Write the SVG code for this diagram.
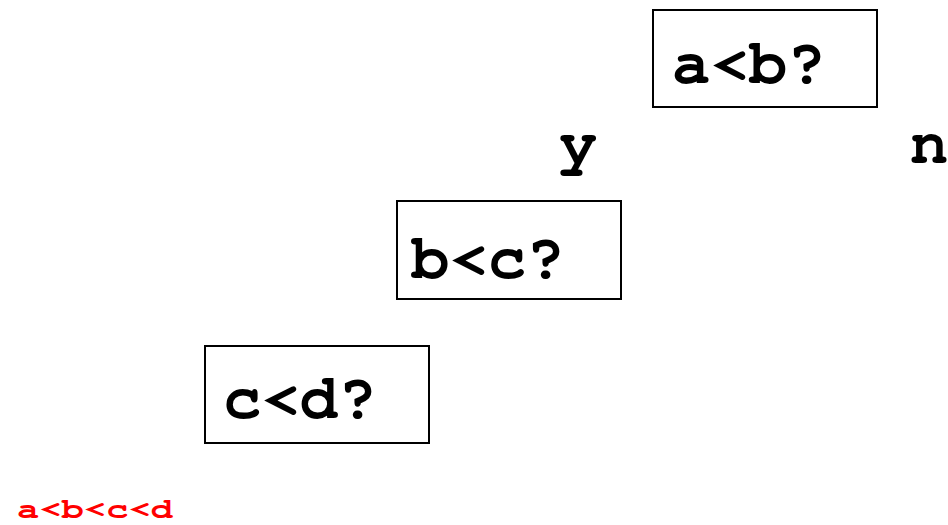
<svg xmlns="http://www.w3.org/2000/svg" width="948" height="525" viewBox="0 0 948 525">
  <style>
    .box { fill: #ffffff; stroke: #000000; stroke-width: 2; }
    .lbl { font-family: FreeMono, 'Liberation Mono', monospace; font-weight: bold; font-size: 64px; fill: #000000; }
    .res { font-family: FreeMono, 'Liberation Mono', monospace; font-weight: bold; font-size: 28px; fill: #ff0000; }
  </style>
  <rect x="0" y="0" width="948" height="525" fill="#ffffff"/>
  <g id="node-ab">
    <rect class="box" x="653" y="10" width="224" height="97"/>
    <text class="lbl" x="672" y="83">a&lt;b?</text>
  </g>
  <g id="node-bc">
    <rect class="box" x="397" y="201" width="224" height="98"/>
    <text class="lbl" x="411" y="278">b&lt;c?</text>
  </g>
  <g id="node-cd">
    <rect class="box" x="205" y="346" width="224" height="97"/>
    <text class="lbl" x="223" y="418">c&lt;d?</text>
  </g>
  <g id="connectors">
    <text class="lbl" x="559" y="163">y</text>
    <text class="lbl" x="910" y="163">n</text>
  </g>
  <g id="result">
    <text class="res" x="17" y="518" textLength="156" lengthAdjust="spacingAndGlyphs">a&lt;b&lt;c&lt;d</text>
  </g>
</svg>
